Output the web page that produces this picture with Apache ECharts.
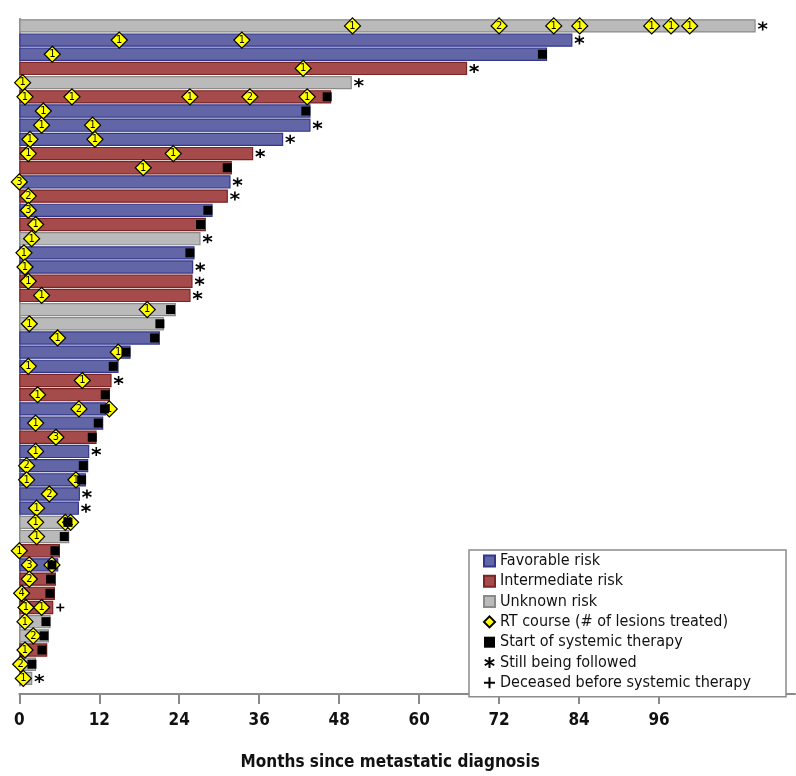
<!DOCTYPE html>
<html>
<head>
<meta charset="utf-8">
<script src="https://cdn.jsdelivr.net/npm/echarts@6/dist/echarts.min.js"></script>
<style>
  html, body { margin: 0; padding: 0; background: #fff; }
  #chart { width: 796px; height: 776px; }
</style>
</head>
<body>
<div id="chart"></div>
<script>
// one row per patient, top to bottom
var patients = ['1','2','3','4','5','6','7','8','9','10','11','12','13','14','15','16','17','18','19','20',
  '21','22','23','24','25','26','27','28','29','30','31','32','33','34','35','36','37','38','39','40',
  '41','42','43','44','45','46','47'];
// F = favorable, I = intermediate, U = unknown
var risk = ['U','F','F','I','U','I','F','F','F','I','I','F','I','F','I','U','F','F','I','I',
  'U','U','F','F','F','I','I','F','F','I','F','F','F','F','F','U','U','I','F','I',
  'I','I','U','U','I','U','U'];
// months since metastatic diagnosis (bar length)
var months = [110.5,83.0,79.2,67.2,49.9,46.8,43.7,43.7,39.6,35.1,31.9,31.7,31.3,29.0,28.0,27.2,26.3,26.1,26.0,25.7,
  23.5,21.7,21.1,16.7,14.9,13.85,13.6,13.0,12.6,11.6,10.5,10.35,10.0,9.1,8.95,7.6,7.5,6.1,5.85,5.5,
  5.35,5.1,4.7,4.45,4.2,2.5,1.95];
// RT courses: [patient row, month, # lesions]
var rtCourses = [
  [0,50,1],[0,72,2],[0,80.2,1],[0,84.1,1],[0,94.9,1],[0,97.8,1],[0,100.6,1],
  [1,15,1],[1,33.4,1],
  [2,4.95,1],
  [3,42.6,1],
  [4,0.5,1],
  [5,0.85,1],[5,7.9,1],[5,25.6,1],[5,34.6,2],[5,43.2,1],
  [6,3.6,1],
  [7,3.35,1],[7,11,1],
  [8,1.6,1],[8,11.35,1],
  [9,1.35,1],[9,23.1,1],
  [10,18.6,1],
  [11,0,3],
  [12,1.35,2],
  [13,1.35,3],
  [14,2.45,1],
  [15,1.85,1],
  [16,0.7,1],
  [17,0.85,1],
  [18,1.35,1],
  [19,3.35,1],
  [20,19.2,1],
  [21,1.5,1],
  [22,5.75,1],
  [23,14.85,1],
  [24,1.35,1],
  [25,9.45,1],
  [26,2.75,1],
  [27,8.95,2],[27,13.5,1],
  [28,2.45,1],
  [29,5.5,3],
  [30,2.45,1],
  [31,1.1,2],
  [32,1.1,1],[32,8.5,1],
  [33,4.5,2],
  [34,2.6,1],
  [35,2.45,1],[35,6.9,1],[35,7.7,1],
  [36,2.6,1],
  [37,0,1],
  [38,1.5,3],[38,4.9,1],
  [39,1.5,2],
  [40,0.35,4],
  [41,1.0,1],[41,3.35,1],
  [42,0.85,1],
  [43,2.1,2],
  [44,0.85,1],
  [45,0.2,2],
  [46,0.6,1]
];
// start of systemic therapy: [patient row, month]
var systemicStart = [
  [2,78.5],[5,46.2],[6,43.0],[10,31.2],[13,28.3],[14,27.2],[16,25.6],[20,22.7],[21,21.1],[22,20.3],
  [23,16.0],[24,14.1],[26,12.9],[27,12.8],[28,11.85],[29,10.95],[31,9.6],[32,9.35],[35,7.3],[36,6.75],
  [37,5.35],[38,4.9],[39,4.7],[40,4.6],[42,4.0],[43,3.7],[44,3.4],[45,1.9]
];
var stillFollowed = [0,1,3,4,7,8,9,11,12,15,17,18,19,25,30,33,34,46];
var deceased = [41];
var xTicks = [0,12,24,36,48,60,72,84,96];

var FONT = "'Liberation Sans Narrow', 'DejaVu Sans Condensed', sans-serif";
var riskStyle = {
  F: { name: 'Favorable risk', color: '#6266a6', border: '#33378a' },
  I: { name: 'Intermediate risk', color: '#a64b4b', border: '#7a2424' },
  U: { name: 'Unknown risk', color: '#bababa', border: '#8a8a8a' }
};
var ASTERISK = 'path://M5,0L5,10M0.67,2.5L9.33,7.5M0.67,7.5L9.33,2.5';
var PLUS = 'path://M5,0L5,10M0,5L10,5';

function barSeries(code) {
  var st = riskStyle[code];
  return {
    name: st.name,
    type: 'bar',
    barGap: '-100%',
    barCategoryGap: '6%',
    z: 2,
    itemStyle: { color: st.color, borderColor: st.border, borderWidth: 1.2 },
    data: months.map(function (m, i) { return risk[i] === code ? m : '-'; })
  };
}

var chart = echarts.init(document.getElementById('chart'), null, { renderer: 'canvas' });
chart.setOption({
  animation: false,
  textStyle: { fontFamily: FONT },
  grid: { left: 19.3, right: 1, top: 18.8, bottom: 78.8, containLabel: false },
  legend: {
    orient: 'vertical',
    left: 469, top: 550,
    padding: [3, 35, 6, 14],
    itemWidth: 11, itemHeight: 11, itemGap: 4.3,
    borderColor: '#8c8c8c', borderWidth: 1.5,
    backgroundColor: '#fff',
    textStyle: { fontFamily: FONT, fontSize: 16, color: '#111', lineHeight: 16 },
    data: [
      { name: 'Favorable risk', icon: 'rect' },
      { name: 'Intermediate risk', icon: 'rect' },
      { name: 'Unknown risk', icon: 'rect' },
      { name: 'RT course (# of lesions treated)', icon: 'diamond' },
      { name: 'Start of systemic therapy', icon: 'rect' },
      { name: 'Still being followed', icon: ASTERISK },
      { name: 'Deceased before systemic therapy', icon: PLUS }
    ]
  },
  xAxis: {
    type: 'value',
    min: 0, max: 116.4, interval: 12,
    offset: 8.5,
    name: 'Months since metastatic diagnosis',
    nameLocation: 'middle',
    nameGap: 60,
    nameTextStyle: { fontFamily: FONT, fontSize: 17, fontWeight: 'bold', color: '#111', padding: [0, 34, 0, 0] },
    axisLine: { show: true, lineStyle: { color: '#8a8a8a', width: 2 } },
    axisTick: { show: true, length: 10, customValues: xTicks, lineStyle: { color: '#8a8a8a', width: 2 } },
    axisLabel: { customValues: xTicks, margin: 18, fontFamily: FONT, fontSize: 17, fontWeight: 'bold', color: '#111' },
    splitLine: { show: false }
  },
  yAxis: {
    type: 'category',
    inverse: true,
    data: patients,
    axisLine: { show: true, lineStyle: { color: '#9a9a9a', width: 2 } },
    axisTick: { show: false },
    axisLabel: { show: false }
  },
  series: [
    barSeries('F'),
    barSeries('I'),
    barSeries('U'),
    {
      name: 'RT course (# of lesions treated)',
      type: 'scatter',
      symbol: 'diamond',
      symbolSize: [16, 16],
      z: 3,
      itemStyle: { color: '#ffff00', borderColor: '#000', borderWidth: 1.2, opacity: 1 },
      label: {
        show: true, position: 'inside', fontSize: 11, color: '#000', fontFamily: FONT,
        formatter: function (p) { return p.value[2]; }
      },
      data: rtCourses.map(function (r) { return [r[1], r[0], r[2]]; })
    },
    {
      name: 'Start of systemic therapy',
      type: 'scatter',
      symbol: 'rect',
      symbolSize: 9,
      z: 4,
      itemStyle: { color: '#000', opacity: 1 },
      data: systemicStart.map(function (s) { return [s[1], s[0]]; })
    },
    {
      name: 'Still being followed',
      type: 'scatter',
      symbol: ASTERISK,
      symbolSize: 9,
      symbolOffset: [7, 0],
      z: 4,
      itemStyle: { color: '#000', borderColor: '#000', borderWidth: 1.6, opacity: 1 },
      data: stillFollowed.map(function (i) { return [months[i], i]; })
    },
    {
      name: 'Deceased before systemic therapy',
      type: 'scatter',
      symbol: PLUS,
      symbolSize: 8,
      symbolOffset: [7, 0],
      z: 4,
      itemStyle: { color: '#000', borderColor: '#000', borderWidth: 1.6, opacity: 1 },
      data: deceased.map(function (i) { return [months[i], i]; })
    }
  ]
});
</script>
</body>
</html>
